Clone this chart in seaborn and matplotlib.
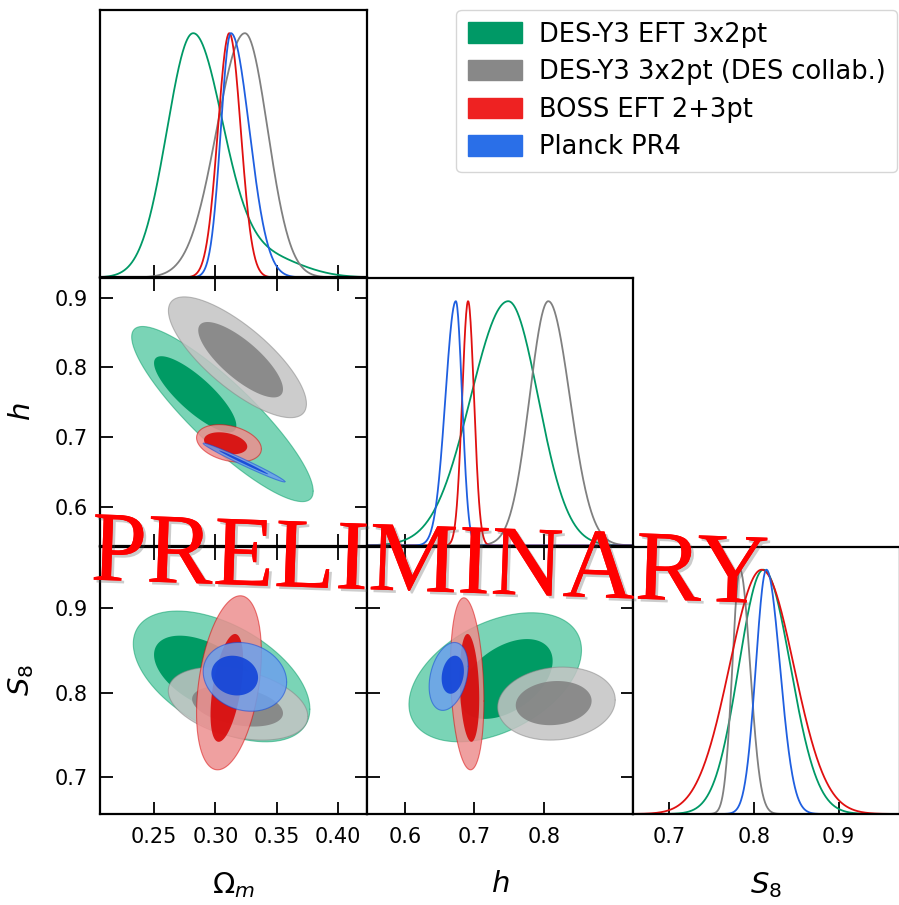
import numpy as np
import matplotlib
matplotlib.use("Agg")
import matplotlib.pyplot as plt
import matplotlib.patheffects as pe
from matplotlib.patches import Patch
import seaborn as sns

# ---------------- data ----------------
labels = ["DES-Y3 EFT 3x2pt", "DES-Y3 3x2pt (DES collab.)", "BOSS EFT 2+3pt", "Planck PR4"]
param_labels = [r"$\Omega_m$", r"$h$", r"$S_8$"]

# 1D marginals: peak position, lower width, upper width, optional tail bump (mu, sd, amp)
om_peak = [0.2814, 0.3240, 0.3113, 0.3126]
om_lo = [0.0210, 0.0230, 0.0093, 0.0082]
om_hi = [0.0240, 0.0185, 0.0093, 0.0150]
om_tail_mu = [0.338, 0.30, 0.30, 0.30]
om_tail_sd = [0.030, 0.01, 0.01, 0.01]
om_tail_amp = [0.09, 0.0, 0.0, 0.0]

h_peak = [0.7487, 0.8063, 0.6910, 0.6734]
h_lo = [0.0540, 0.0270, 0.0085, 0.0150]
h_hi = [0.0430, 0.0310, 0.0085, 0.0090]

s8_peak = [0.8111, 0.7834, 0.8091, 0.8147]
s8_lo = [0.0290, 0.0090, 0.0380, 0.0125]
s8_hi = [0.0320, 0.0120, 0.0380, 0.0160]

# 2D contours: [centre x, centre y, half-extent x, half-extent y, correlation]
omh_95 = [[0.3057, 0.7332, 0.0739, 0.1254, -0.88],
          [0.3179, 0.8145, 0.0562, 0.0865, -0.77],
          [0.3110, 0.6913, 0.0264, 0.0268, -0.30],
          [0.3233, 0.6638, 0.0333, 0.0278, -0.985]]
omh_68 = [[0.2835, 0.7615, 0.0335, 0.0545, -0.82],
          [0.3205, 0.8110, 0.0345, 0.0540, -0.78],
          [0.3083, 0.6913, 0.0176, 0.0158, -0.30],
          [0.3230, 0.6640, 0.0200, 0.0170, -0.993]]

oms8_95 = [[0.3050, 0.8190, 0.0719, 0.0770, -0.50],
           [0.3184, 0.7870, 0.0568, 0.0430, -0.35],
           [0.3110, 0.8115, 0.0264, 0.1025, 0.35],
           [0.3240, 0.8185, 0.0340, 0.0405, -0.15]]
oms8_68 = [[0.2920, 0.8220, 0.0420, 0.0450, -0.50],
           [0.3180, 0.7840, 0.0370, 0.0240, -0.35],
           [0.3093, 0.8055, 0.0133, 0.0635, 0.50],
           [0.3157, 0.8200, 0.0190, 0.0234, -0.10]]

hs8_95 = [[0.7300, 0.8180, 0.1240, 0.0760, 0.42],
          [0.8180, 0.7870, 0.0845, 0.0430, 0.10],
          [0.6897, 0.8103, 0.0240, 0.1013, -0.20],
          [0.6630, 0.8190, 0.0280, 0.0400, 0.30]]
hs8_68 = [[0.7455, 0.8160, 0.0670, 0.0470, 0.45],
          [0.8140, 0.7876, 0.0545, 0.0260, 0.10],
          [0.6930, 0.8055, 0.0140, 0.0635, -0.20],
          [0.6690, 0.8210, 0.0160, 0.0224, 0.20]]

om_ticks = [0.25, 0.30, 0.35, 0.40]
h_ticks = [0.6, 0.7, 0.8]
h_yticks = [0.6, 0.7, 0.8, 0.9]
s8_ticks = [0.7, 0.8, 0.9]

# ---------------- style ----------------
line_colors = ["#009966", "#808080", "#e01010", "#1f5fe0"]
dark_fill = ["#009b64", "#808080", "#d80000", "#0c3fd8"]
light_fill = ["#7ad4b6", "#c4c4c4", "#ed8f8f", "#6ca1ed"]
fill_alpha = [1.0, 0.85, 0.85, 0.85]
legend_colors = ["#009966", "#888888", "#ee2222", "#2a6fe8"]

sns.set_theme(style="white")
plt.rcParams["font.family"] = ["DejaVu Sans"]
plt.rcParams["mathtext.fontset"] = "dejavusans"
for k in ["text.color", "axes.labelcolor", "xtick.color", "ytick.color"]:
    plt.rcParams[k] = "black"

W, H = 899, 905
fig = plt.figure(figsize=(W / 100, H / 100), dpi=100)
fig.patch.set_facecolor("white")

col_x = [100, 366.5, 633]
cw = 266.5
row_top = [10, 278, 546.5]
rh = 267.5

lims = [(0.206, 0.423), (0.545, 0.928), (0.657, 0.972)]
xt = [om_ticks, h_ticks, s8_ticks]
yt = [None, h_yticks, s8_ticks]


def fmt(v, nd):
    return f"{v:.{nd}f}"


def add_ax(r, c):
    ax = fig.add_axes([col_x[c] / W, 1 - (row_top[r] + rh) / H, cw / W, rh / H])
    for s in ax.spines.values():
        s.set_linewidth(1.6)
        s.set_color("black")
        s.set_visible(True)
    return ax


def marginal(x, mu, lo, hi, tmu=0.0, tsd=1.0, tamp=0.0):
    s = np.where(x < mu, lo, hi)
    d = np.exp(-0.5 * ((x - mu) / s) ** 2) + tamp * np.exp(-0.5 * ((x - tmu) / tsd) ** 2)
    return d / d.max()


def ellipse(cx, cy, rx, ry, rho, n=300):
    t = np.linspace(0, 2 * np.pi, n)
    x = cx + rx * np.cos(t)
    y = cy + ry * (rho * np.cos(t) + np.sqrt(1 - rho ** 2) * np.sin(t))
    return x, y


axes = {}
for r in range(3):
    for c in range(r + 1):
        axes[(r, c)] = add_ax(r, c)

# diagonal panels
diag_data = [
    [(om_peak[i], om_lo[i], om_hi[i], om_tail_mu[i], om_tail_sd[i], om_tail_amp[i]) for i in range(4)],
    [(h_peak[i], h_lo[i], h_hi[i], 0.0, 1.0, 0.0) for i in range(4)],
    [(s8_peak[i], s8_lo[i], s8_hi[i], 0.0, 1.0, 0.0) for i in range(4)],
]
for k in range(3):
    ax = axes[(k, k)]
    grid = np.linspace(lims[k][0], lims[k][1], 600)
    for i in range(4):
        mu, lo, hi, tmu, tsd, tamp = diag_data[k][i]
        sns.lineplot(x=grid, y=marginal(grid, mu, lo, hi, tmu, tsd, tamp), ax=ax,
                     color=line_colors[i], lw=1.3, legend=False)
    ax.set_xlim(*lims[k])
    ax.set_ylim(0, 1.095)
    ax.set_yticks([])
    ax.set_xticks(xt[k])
    ax.tick_params(axis="x", direction="in", length=9, width=1.3, top=False, bottom=True,
                   labelsize=15, pad=9)

# 2D panels
panels = {(1, 0): (omh_95, omh_68), (2, 0): (oms8_95, oms8_68), (2, 1): (hs8_95, hs8_68)}
for (r, c), (c95, c68) in panels.items():
    ax = axes[(r, c)]
    for i in range(4):
        x, y = ellipse(*c95[i])
        ax.fill(x, y, color=light_fill[i], alpha=fill_alpha[i], lw=0, zorder=2 + 2 * i)
        ax.plot(x, y, color=dark_fill[i], alpha=0.5, lw=0.8, zorder=2 + 2 * i)
        x, y = ellipse(*c68[i])
        ax.fill(x, y, color=dark_fill[i], alpha=fill_alpha[i], lw=0, zorder=3 + 2 * i)
    ax.set_xlim(*lims[c])
    ax.set_ylim(*lims[r])
    ax.set_xticks(xt[c])
    ax.set_yticks(yt[r])
    ax.tick_params(direction="in", length=9, width=1.3, top=True, right=True,
                   bottom=True, left=True, labelsize=15, pad=9)

# labels
for (r, c), ax in axes.items():
    if r < 2:
        ax.set_xticklabels([])
    else:
        nd = 2 if c == 0 else 1
        ax.set_xticklabels([fmt(v, nd) for v in xt[c]])
        ax.set_xlabel(param_labels[c], fontsize=21, labelpad=17)
    if c > 0 or r == 0:
        if r != c:
            ax.set_yticklabels([])
    else:
        ax.set_yticklabels([fmt(v, 1) for v in yt[r]])
        ax.set_ylabel(param_labels[r], fontsize=21, labelpad=13)

handles = [Patch(facecolor=legend_colors[i], edgecolor=legend_colors[i], label=labels[i])
           for i in range(4)]
fig.legend(handles=handles, loc="upper right", bbox_to_anchor=(897 / W, 1 - 10 / H),
           fontsize=18.5, frameon=True, handlelength=2.1, handleheight=0.85,
           labelspacing=0.45, borderpad=0.45, handletextpad=0.65, borderaxespad=0)

fig.text(0.478, 0.373, "PRELIMINARY", fontsize=72, family=["Liberation Serif", "DejaVu Serif"],
         color="red", rotation=-2, ha="center", va="center", rotation_mode="anchor", zorder=20,
         path_effects=[pe.withSimplePatchShadow(offset=(2, -2), shadow_rgbFace="0.35", alpha=0.3),
                       pe.Normal()])

fig.savefig("out.png", dpi=100, facecolor="white")
